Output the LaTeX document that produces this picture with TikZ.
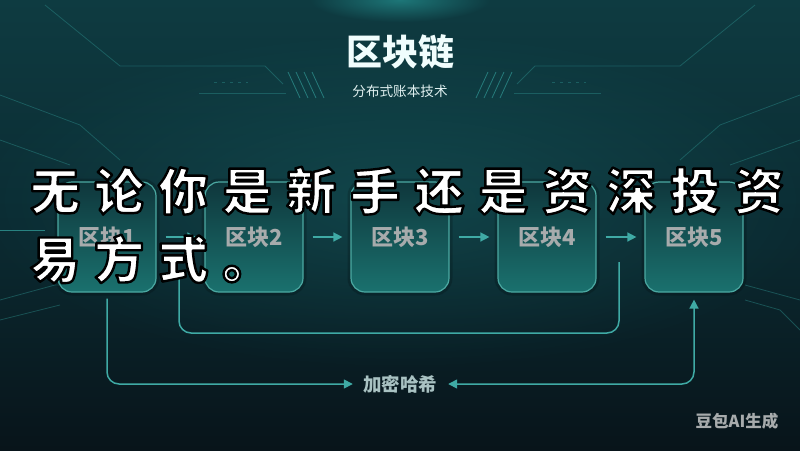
\documentclass[tikz,border=0pt]{standalone}
\usepackage{fontspec}
\newfontfamily\cjk{Noto Sans CJK SC}
\usetikzlibrary{arrows.meta,calc,fadings}

\definecolor{bgtop}{HTML}{0E3B41}
\definecolor{bgmid}{HTML}{0B2B32}
\definecolor{bgbot}{HTML}{08141A}
\definecolor{glowcol}{HTML}{1F7D7E}
\definecolor{boxtop}{HTML}{0F373C}
\definecolor{boxbot}{HTML}{1A716E}
\definecolor{boxedge}{HTML}{4BA9A2}
\definecolor{linkcol}{HTML}{3FAAA5}
\definecolor{labelgray}{HTML}{A7ABAC}
\definecolor{hashcol}{HTML}{A9C2C2}
\definecolor{decorcol}{HTML}{2C8C8A}
\definecolor{titlecol}{HTML}{F0FDFD}

\tikzfading[name=glowfade, inner color=transparent!0, outer color=transparent!100]

% white strokes with a dark rim, as in the overlaid line of text
\newcommand{\inkline}[1]{\special{pdf:literal direct 2 Tr 2.4 w 0 0 0 RG 1 j}#1\special{pdf:literal direct 0 Tr}}

\begin{document}
\begin{tikzpicture}[x=1pt, y=-1pt,
  blockbox/.style = {draw=boxedge, line width=1.2pt, rounded corners=14pt,
    minimum width=98pt, minimum height=110pt, top color=boxtop, bottom color=boxbot,
    preaction={draw=black, line width=7pt, opacity=0.18},
    text=labelgray, font=\cjk\bfseries\fontsize{22}{22}\selectfont},
  flow/.style = {draw=linkcol, line width=1.5pt, -{Triangle[length=9pt,width=9pt]}},
  link/.style = {draw=linkcol, line width=1.5pt, rounded corners=12pt},
  decor/.style = {draw=decorcol, line width=0.8pt, opacity=0.45},
  overtext/.style = {inner sep=0pt, anchor=west, text=white,
    font=\cjk\bfseries\fontsize{50}{50}\selectfont\addfontfeature{LetterSpace=28}},
  ]
  % background
  \useasboundingbox (0,0) rectangle (800,450);
  \clip (0,0) rectangle (800,450);
  \shade[top color=bgtop, bottom color=bgbot, middle color=bgmid] (0,0) rectangle (800,450);
  \fill[glowcol, opacity=0.3, path fading=glowfade] (400,200) ellipse (430 and 170);
  \fill[glowcol, opacity=0.9, path fading=glowfade] (400,0) ellipse (90 and 22);

  % circuit lines
  \draw[decor] (45,5) -- (120,66) -- (265,66) -- (283,84);
  \draw[decor] (199,93) -- (286,93);
  \draw[decor, dash pattern=on 3pt off 5pt] (214,82) -- (248,82);
  \draw[decor] (755,5) -- (680,66) -- (535,66) -- (517,84);
  \draw[decor] (514,93) -- (601,93);
  \draw[decor, dash pattern=on 3pt off 5pt] (552,82) -- (586,82);
  \foreach \i in {0,...,3} {
    \draw[decor, opacity=0.8] (288+\i*8,72) -- (300+\i*8,98);
    \draw[decor, opacity=0.8] (512-\i*8,72) -- (500-\i*8,98);
  }
  \draw[decor] (0,95) -- (80,125) -- (120,160);
  \draw[decor] (0,140) -- (70,165);
  \draw[decor] (800,95) -- (720,125) -- (680,160);
  \draw[decor] (800,140) -- (730,165);
  \draw[decor, opacity=0.9] (0,230) -- (45,230);
  \draw[decor] (0,300) -- (55,285) -- (100,285);
  \draw[decor] (0,320) -- (60,305);
  \draw[decor] (745,285) -- (800,300);
  \draw[decor] (745,300) -- (780,310) -- (800,330);

  % title
  \node[text=titlecol, font=\cjk\bfseries\fontsize{36}{36}\selectfont] (title) at (400,52) {区块链};
  \node[text=white!88!teal, font=\cjk\fontsize{13.6}{13.6}\selectfont] (subtitle) at (400,91) {分布式账本技术};

  % chain of blocks
  \foreach \n/\x in {1/107, 2/254, 3/400, 4/547, 5/694}
    \node[blockbox] (b\n) at (\x,237) {区块\n};
  \foreach \a/\b in {1/2, 2/3, 3/4, 4/5}
    \draw[flow, shorten <=9pt, shorten >=8pt] (b\a) -- (b\b);

  % upper loop
  \coordinate (g45) at (619,262);
  \coordinate (g12) at (179,273);
  \coordinate (u45) at (619,333);
  \draw[link] (g45) -- (u45) -| (g12);

  % hashing loop
  \node[text=hashcol, font=\cjk\bfseries\fontsize{18.5}{18.5}\selectfont, inner sep=4pt] (hash) at (400,384) {加密哈希};
  \draw[link, -{Triangle[length=9pt,width=9pt]}, shorten <=6pt, shorten >=6pt] (b1.south) |- (hash.west);
  \draw[link, {Triangle[length=9pt,width=9pt]}-{Triangle[length=9pt,width=9pt]}, shorten <=7pt, shorten >=7pt] (hash.east) -| (b5.south);

  % overlaid text
  \node[overtext] (line1) at (30,191) {\inkline{无论你是新手还是资深投资}};
  \node[overtext] (line2) at (30,259) {\inkline{易方式。}};

  % mark
  \node[text=labelgray, font=\cjk\bfseries\fontsize{16.5}{16.5}\selectfont] (mark) at (737,421) {豆包AI生成};
\end{tikzpicture}
\end{document}
